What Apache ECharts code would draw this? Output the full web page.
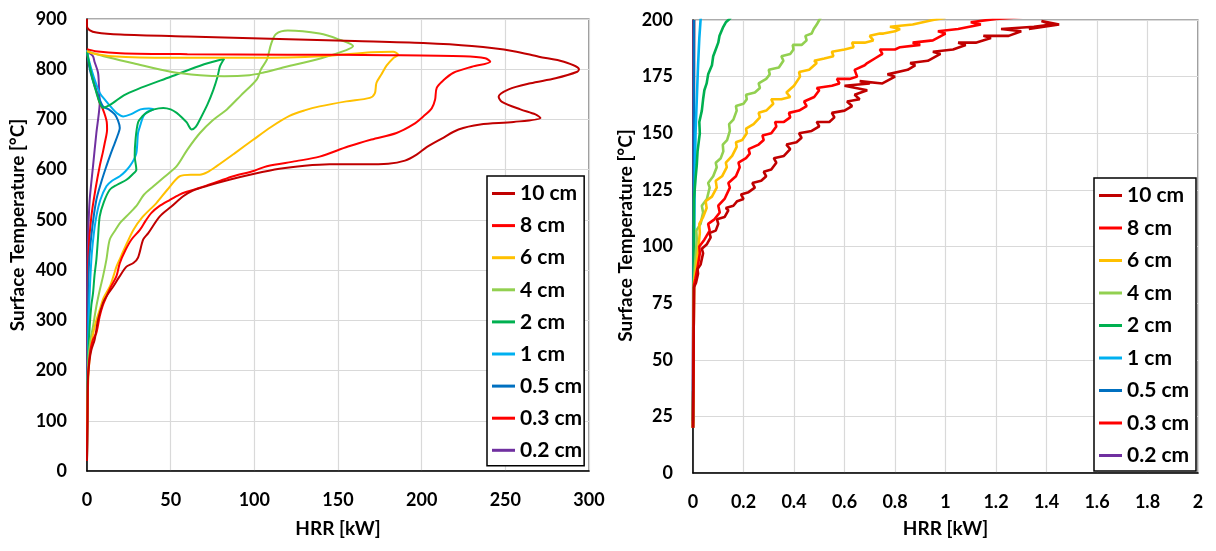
<!DOCTYPE html>
<html>
<head>
<meta charset="utf-8">
<script src="https://cdn.jsdelivr.net/npm/echarts@6/dist/echarts.min.js"></script>
<style>
html,body{margin:0;padding:0;background:#fff;}
#c{width:1216px;height:551px;}
</style>
</head>
<body>
<div id="c"></div>
<script>
// ---------- names / colours ----------
const seriesNames = ['10 cm','8 cm','6 cm','4 cm','2 cm','1 cm','0.5 cm','0.3 cm','0.2 cm'];
const seriesColors = ['#C00000','#FF0000','#FFC000','#92D050','#00B050','#00B0F0','#0070C0','#FF0000','#7030A0'];

// ---------- left panel: [HRR kW, Surface temperature °C] ----------
const left_10cm = [[0,20],[0.3,100],[0.5,180],[1.5,220],[2.6,241],[4.6,262],[6.6,301],[9.6,335],[12,350],[15.6,367],[19,385],[23.6,407],[27.7,414],[30.5,425],[33.6,461],[36.5,473],[43.5,507],[50.6,527],[57.5,547],[63,558],[72,568],[85,580],[100,592],[115,602],[130,608],[145,611],[165,611],[180,612],[190,618],[197,630],[203,645],[212,662],[222,680],[235,690],[255,695],[271,703],[268,710],[259,720],[248,735],[246,745],[252,760],[265,772],[280,782],[293,795],[294,800],[285,815],[270,825],[255,836],[230,846],[201,852],[160,856],[115,860],[60,865],[20,869],[5.6,873],[1.5,878],[0,885],[0,900]];
const left_8cm = [[0,20],[0.3,120],[0.8,200],[2,240],[3.6,262],[5.6,275],[7.6,308],[9.5,330],[11.6,347],[14,365],[17.6,388],[19.6,414],[23,440],[26.6,461],[31.6,480],[35,498],[38.5,514],[43,527],[49.6,540],[55,550],[59.6,556],[67.5,564],[78,576],[87.4,587],[100,598],[107.5,607],[125,617],[139,626],[156,646],[170,660],[185,673],[195,690],[201,706],[206,722],[208,739],[209,763],[213,778],[219,793],[230,805],[241,815],[238,822],[225,826],[180,828],[120,829],[60,830],[20,832],[5,836],[0,840]];
const left_6cm = [[0,20],[0.3,120],[1,200],[2.5,250],[4.6,288],[7.6,321],[10,345],[13.6,367],[16,390],[17.6,407],[20,425],[22,440],[27.7,480],[33,505],[41.6,534],[48,560],[55.5,587],[62,590],[67.5,590],[72,595],[77.5,607],[88,632],[99.5,660],[110,685],[121,707],[130,718],[139,726],[155,736],[169,743],[172,752],[173,773],[176,790],[179,807],[183,822],[186,829],[183,835],[170,834],[140,826],[100,823],[50,823],[15,826],[3,832],[0,836]];
const left_4cm = [[0,20],[0.2,150],[0.8,220],[2,260],[3.6,288],[5.6,328],[7.6,360],[9.6,388],[11.6,421],[13.6,461],[17,480],[20,495],[25.6,514],[30,530],[34,550],[39.7,567],[46,585],[53.6,607],[60,640],[67.5,673],[75,698],[83.6,720],[92,748],[101.5,780],[104,800],[107.5,819],[110,850],[113,870],[120,877],[139,871],[150,860],[159,846],[155,838],[140,822],[115.6,802],[105,793],[97,788],[82,786],[67.5,788],[50,795],[27.7,812],[10,826],[2,834],[0,838]];
const left_2cm = [[0,20],[0.3,150],[0.8,230],[1.6,288],[2.6,330],[3.6,354],[4.5,390],[5.6,421],[6.5,460],[7.6,507],[10,535],[13.6,560],[18,570],[23.6,580],[27,590],[29.5,600],[28.5,627],[29,660],[30.5,694],[33,706],[35.6,713],[40,720],[45.6,723],[50,720],[53.6,713],[57,703],[59.6,694],[62.6,680],[65,685],[67.5,700],[72,730],[75.5,759],[78,785],[79.5,806],[82,821],[70,810],[50,785],[30,760],[22,748],[15.6,733],[12,726],[9.6,723],[5,760],[2,800],[0,835]];
const left_1cm = [[0,20],[0.3,150],[0.7,250],[1.2,321],[2.6,421],[4,470],[5.6,507],[8,540],[11.6,567],[15,578],[19.6,587],[23,597],[25.6,607],[28,620],[29.5,633],[30,650],[30.5,673],[32,690],[33.6,706],[36,715],[39.7,720],[37,722],[32,720],[26,710],[21.6,706],[18,712],[15.6,720],[11,738],[7.6,753],[4,785],[1,820],[0,838]];
const left_05cm = [[0,20],[0.2,200],[0.6,300],[1.2,413],[3,480],[5.6,540],[8.5,575],[11.6,607],[14,630],[16.6,653],[18.5,670],[19.6,683],[18.5,698],[16.6,710],[13,720],[9.6,726],[7,745],[4.6,766],[2,795],[0.6,820],[0,835]];
const left_03cm = [[0,20],[0.2,200],[0.5,350],[1,440],[2.6,507],[5,560],[7.6,607],[9.5,635],[10.6,653],[12,680],[11.8,695],[11,706],[9.5,720],[7.6,733],[5,765],[2.6,793],[1,815],[0,831]];
const left_02cm = [[0,20],[0,300],[0.2,407],[0.8,480],[1.6,540],[3.6,607],[5.6,673],[7,710],[7.6,733],[7.2,760],[6.6,793],[4.5,815],[3.6,826],[1.5,832],[0,835]];

// ---------- right panel (zoom): [HRR kW, Surface temperature °C] ----------
const right_10cm = [[0,20],[0.002,50],[0.004,82],[0.012,84],[0.02,88],[0.018,90],[0.03,92],[0.04,97],[0.035,99],[0.055,101],[0.07,104],[0.065,106],[0.09,107],[0.1,110],[0.095,112],[0.125,113],[0.14,116],[0.13,117],[0.16,118],[0.175,120],[0.2,121],[0.19,123],[0.22,124],[0.245,126],[0.235,128],[0.27,129],[0.29,131],[0.28,133],[0.31,134],[0.33,137],[0.32,139],[0.36,140],[0.385,143],[0.37,145],[0.41,146],[0.43,148],[0.42,150],[0.47,151],[0.5,153],[0.49,155],[0.54,155],[0.56,157],[0.55,159],[0.6,160],[0.63,162],[0.61,164],[0.66,165],[0.64,167],[0.69,169],[0.6,171],[0.7,172],[0.66,173],[0.75,172],[0.8,175],[0.77,176],[0.85,178],[0.88,180],[0.86,181],[0.93,182],[0.98,185],[0.95,186],[1.03,187],[1.08,189],[1.05,190],[1.12,190],[1.18,192],[1.15,193],[1.25,193],[1.3,195],[1.22,196],[1.35,197],[1.42,198],[1.38,199.5],[1.45,198],[1.33,196]];
const right_8cm = [[0,20],[0.002,50],[0.004,83],[0.01,86],[0.02,92],[0.027,97],[0.025,100],[0.045,103],[0.066,107],[0.06,110],[0.085,112],[0.106,115],[0.1,118],[0.125,121],[0.146,126],[0.14,128],[0.17,131],[0.185,135],[0.18,137],[0.21,139],[0.225,141],[0.22,143],[0.26,145],[0.28,147],[0.275,149],[0.31,150],[0.33,153],[0.325,155],[0.36,155],[0.385,157],[0.38,159],[0.42,160],[0.45,162],[0.44,164],[0.48,166],[0.5,169],[0.49,170],[0.55,171],[0.58,172],[0.57,174],[0.62,174],[0.65,175],[0.64,178],[0.68,180],[0.69,181],[0.72,183],[0.75,185],[0.74,187],[0.8,187],[0.82,188],[0.9,189],[0.87,190],[0.95,191],[1.0,194],[0.97,195],[1.05,196],[1.14,198],[1.1,199],[1.2,200.5],[1.27,201],[1.35,202]];
const right_6cm = [[0,20],[0.002,50],[0.004,84],[0.012,90],[0.02,98],[0.027,106],[0.025,110],[0.04,113],[0.054,117],[0.05,120],[0.075,122],[0.094,126],[0.09,129],[0.115,131],[0.134,135],[0.13,137],[0.155,140],[0.173,144],[0.17,146],[0.195,147],[0.213,150],[0.21,152],[0.24,154],[0.265,157],[0.26,159],[0.29,160],[0.318,163],[0.31,165],[0.35,165],[0.385,166],[0.37,168],[0.4,171],[0.424,175],[0.42,177],[0.46,178],[0.49,181],[0.48,182],[0.52,183],[0.556,184],[0.55,186],[0.6,187],[0.636,188],[0.63,190],[0.68,190],[0.714,191],[0.7,193],[0.74,194],[0.754,194],[0.8,195],[0.82,196],[0.78,197],[0.87,198],[0.95,200],[1.0,201]];
const right_4cm = [[0,20],[0.002,50],[0.004,85],[0.01,95],[0.015,103],[0.013,107],[0.03,110],[0.04,115],[0.035,118],[0.055,121],[0.066,126],[0.06,128],[0.08,131],[0.094,135],[0.09,137],[0.11,139],[0.12,142],[0.118,145],[0.135,147],[0.146,151],[0.143,154],[0.16,156],[0.173,160],[0.17,162],[0.2,163],[0.213,165],[0.21,167],[0.245,168],[0.265,170],[0.26,172],[0.29,174],[0.304,176],[0.3,178],[0.34,179],[0.358,182],[0.35,184],[0.385,185],[0.398,187],[0.395,189],[0.43,189],[0.45,191],[0.445,193],[0.47,194],[0.478,196],[0.49,198],[0.5,200],[0.51,202]];
const right_2cm = [[0,20],[0.002,60],[0.003,100],[0.004,121],[0.01,130],[0.015,136],[0.018,142],[0.027,150],[0.025,155],[0.035,160],[0.04,165],[0.045,169],[0.054,172],[0.06,176],[0.075,180],[0.08,184],[0.09,187],[0.1,190],[0.105,193],[0.12,197],[0.13,199],[0.14,200],[0.15,201]];
const right_1cm = [[0,23],[0.003,80],[0.006,120],[0.01,150],[0.015,165],[0.02,180],[0.025,192],[0.03,200],[0.032,202]];
const right_05cm = [[0,23],[0.002,100],[0.003,150],[0.004,200]];
const right_03cm = [[0,20],[0.002,100],[0.003,150],[0.004,200]];
const right_02cm = [[0,22],[0.001,100],[0.002,200]];

// ---------- axes ----------
const leftX = {min:0, max:300, interval:50};
const leftY = {min:0, max:900, interval:100};
const rightX = {min:0, max:2, interval:0.2};
const rightY = {min:0, max:200, interval:25};

const leftData = [left_10cm,left_8cm,left_6cm,left_4cm,left_2cm,left_1cm,left_05cm,left_03cm,left_02cm];
const rightData = [right_10cm,right_8cm,right_6cm,right_4cm,right_2cm,right_1cm,right_05cm,right_03cm,right_02cm];

const FONT = 'Lato, "Open Sans", sans-serif';
const tickLabel = {fontFamily:FONT, fontWeight:'bold', fontSize:18, color:'#000'};
function nameStyle(pad){ return {fontFamily:FONT, fontWeight:'bold', fontSize:19, color:'#000', padding:pad}; }

function xAxis(gi, r, gap){
  return {type:'value', gridIndex:gi, min:r.min, max:r.max, interval:r.interval,
    name:'HRR [kW]', nameLocation:'middle', nameGap:gap, nameTextStyle:nameStyle([0,0,0,0]),
    axisLine:{show:true, onZero:false, lineStyle:{color:'#000', width:1.5}},
    axisTick:{show:false}, axisLabel:Object.assign({margin:20}, tickLabel),
    splitLine:{show:true, lineStyle:{color:'#d9d9d9', width:1.2}}};
}
function yAxis(gi, r, gap, shift){
  return {type:'value', gridIndex:gi, min:r.min, max:r.max, interval:r.interval,
    name:'Surface Temperature [°C]', nameLocation:'middle', nameGap:gap, nameTextStyle:nameStyle([0,0,0,shift]),
    axisLine:{show:true, onZero:false, lineStyle:{color:'#000', width:1.5}},
    axisTick:{show:false}, axisLabel:Object.assign({margin:20}, tickLabel),
    splitLine:{show:true, lineStyle:{color:'#d9d9d9', width:1.2}}};
}

const series = [];
seriesNames.forEach((n,i)=>{
  series.push({name:n, type:'line', xAxisIndex:0, yAxisIndex:0, data:leftData[i], showSymbol:false, symbol:'none',
    smooth:0.3, lineStyle:{color:seriesColors[i], width:2}, itemStyle:{color:seriesColors[i]}, z: 10-i, animation:false});
});
seriesNames.forEach((n,i)=>{
  series.push({name:n, type:'line', xAxisIndex:1, yAxisIndex:1, data:rightData[i], showSymbol:false, symbol:'none',
    lineStyle:{color:seriesColors[i], width:2.6}, itemStyle:{color:seriesColors[i]}, z: 10-i, animation:false});
});

function legend(left, top, gap, textW){
  return {data:seriesNames, orient:'vertical', left:left, top:top, icon:'rect', itemWidth:23, itemHeight:3,
    itemGap:gap, padding:[7,2,5,5], backgroundColor:'#fff', borderColor:'#000', borderWidth:1.5,
    textStyle:{fontFamily:FONT, fontWeight:'bold', fontSize:21, color:'#000', lineHeight:20, width:textW},
    selectedMode:false};
}

const chart = echarts.init(document.getElementById('c'), null, {renderer:'canvas'});
chart.setOption({
  animation:false,
  backgroundColor:'#fff',
  grid:[
    {left:87, top:19, right:627, bottom:80, show:true, borderColor:'#595959', borderWidth:1.2, containLabel:false},
    {left:693, top:20, right:18, bottom:78, show:true, borderColor:'#595959', borderWidth:1.2, containLabel:false}
  ],
  xAxis:[xAxis(0,leftX,48), xAxis(1,rightX,46)],
  yAxis:[yAxis(0,leftY,60,40), yAxis(1,rightY,58,22)],
  legend:[legend(487,176,11.1,62), legend(1094,178,11.5,67)],
  series:series
});
</script>
</body>
</html>
